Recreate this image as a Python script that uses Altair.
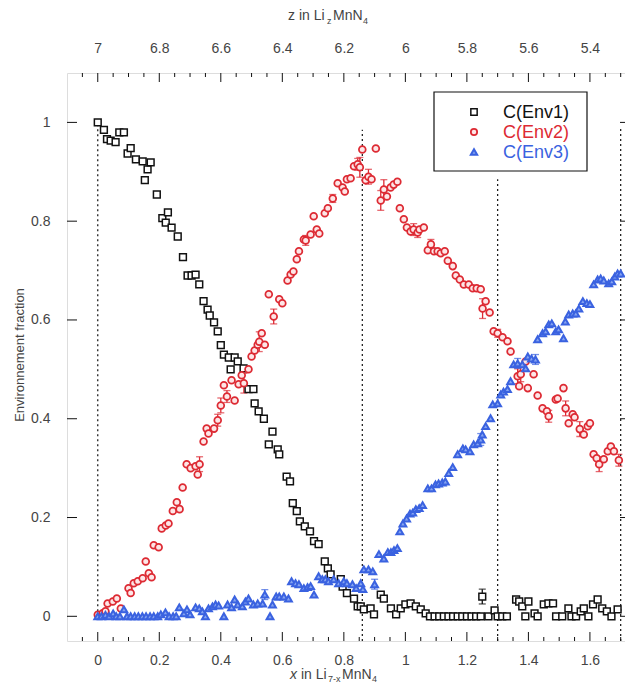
import altair as alt
import pandas as pd

# ---------------- data ----------------
env1_x = [0.0, 0.02, 0.03, 0.042, 0.058, 0.07, 0.085, 0.097, 0.107, 0.124, 0.146, 0.153, 0.162, 0.172,
          0.192, 0.21, 0.221, 0.228, 0.24, 0.26, 0.277, 0.292, 0.305, 0.318, 0.33, 0.344, 0.357, 0.364,
          0.378, 0.39, 0.40, 0.41, 0.426, 0.432, 0.445, 0.455, 0.474, 0.49, 0.506, 0.51, 0.523, 0.54,
          0.556, 0.568, 0.585, 0.59, 0.614, 0.625, 0.634, 0.647, 0.657, 0.673, 0.69, 0.703, 0.718,
          0.738, 0.748, 0.757, 0.79, 0.796, 0.81, 0.833, 0.845, 0.855, 0.865, 0.887, 0.898, 0.92, 0.93,
          0.953, 0.97, 0.985, 1.0, 1.017, 1.034, 1.05, 1.066, 1.08, 1.095, 1.11, 1.125, 1.14, 1.155,
          1.17, 1.185, 1.2, 1.215, 1.23, 1.245, 1.25, 1.27, 1.29, 1.3, 1.315, 1.33, 1.36, 1.37, 1.38,
          1.39, 1.40, 1.42, 1.43, 1.45, 1.465, 1.48, 1.49, 1.51, 1.53, 1.54, 1.555, 1.57, 1.58, 1.595,
          1.61, 1.625, 1.64, 1.655, 1.67, 1.69]
env1_y = [1.0, 0.985, 0.966, 0.963, 0.96, 0.98, 0.98, 0.937, 0.948, 0.925, 0.921, 0.883, 0.905, 0.919,
          0.854, 0.806, 0.797, 0.818, 0.787, 0.769, 0.727, 0.69, 0.69, 0.692, 0.672, 0.638, 0.621, 0.609,
          0.595, 0.577, 0.549, 0.53, 0.524, 0.50, 0.524, 0.516, 0.502, 0.46, 0.46, 0.431, 0.415, 0.40,
          0.348, 0.374, 0.338, 0.328, 0.283, 0.273, 0.229, 0.213, 0.192, 0.182, 0.172, 0.152, 0.146,
          0.111, 0.097, 0.085, 0.075, 0.06, 0.047, 0.036, 0.02, 0.02, 0.014, 0.016, 0.004, 0.044, 0.036,
          0.016, 0.004, 0.016, 0.024, 0.026, 0.02, 0.014, 0.006, 0.0, 0.0, 0.0, 0.0, 0.0, 0.0,
          0.0, 0.0, 0.0, 0.0, 0.0, 0.0, 0.04, 0.0, 0.012, 0.0, 0.0, 0.0, 0.034, 0.03, 0.02,
          0.0, 0.03, 0.006, 0.0, 0.024, 0.026, 0.026, 0.0, 0.0, 0.016, 0.0, 0.0, 0.01, 0.016, 0.0,
          0.024, 0.034, 0.016, 0.01, 0.0, 0.014]

env2_x = [0.0, 0.016, 0.025, 0.032, 0.049, 0.062, 0.075, 0.1, 0.107, 0.117, 0.13, 0.146, 0.156, 0.166,
          0.175, 0.182, 0.198, 0.208, 0.221, 0.23, 0.244, 0.257, 0.266, 0.276, 0.289, 0.302, 0.318,
          0.325, 0.331, 0.344, 0.354, 0.36, 0.378, 0.39, 0.40, 0.41, 0.42, 0.435, 0.445, 0.458, 0.468,
          0.475, 0.49, 0.50, 0.51, 0.52, 0.525, 0.533, 0.543, 0.556, 0.572, 0.59, 0.60, 0.617, 0.627,
          0.636, 0.647, 0.654, 0.67, 0.676, 0.692, 0.702, 0.712, 0.72, 0.738, 0.748, 0.764, 0.78, 0.796,
          0.803, 0.81, 0.822, 0.833, 0.845, 0.852, 0.86, 0.871, 0.88, 0.89, 0.904, 0.92, 0.93, 0.94,
          0.952, 0.962, 0.974, 0.982, 0.995, 1.005, 1.017, 1.027, 1.04, 1.046, 1.06, 1.073, 1.083,
          1.093, 1.105, 1.115, 1.128, 1.138, 1.154, 1.164, 1.177, 1.19, 1.206, 1.219, 1.232, 1.245,
          1.251, 1.261, 1.274, 1.287, 1.30, 1.316, 1.332, 1.342, 1.365, 1.37, 1.375, 1.391, 1.398,
          1.417, 1.43, 1.446, 1.46, 1.466, 1.489, 1.495, 1.514, 1.521, 1.531, 1.544, 1.55, 1.567, 1.58,
          1.593, 1.60, 1.612, 1.622, 1.63, 1.645, 1.658, 1.668, 1.678, 1.694]
env2_y = [0.003, 0.006, 0.01, 0.026, 0.03, 0.036, 0.016, 0.057, 0.047, 0.067, 0.071, 0.077, 0.111, 0.087,
          0.079, 0.144, 0.14, 0.178, 0.184, 0.188, 0.213, 0.231, 0.217, 0.261, 0.308, 0.30, 0.304,
          0.287, 0.308, 0.354, 0.38, 0.37, 0.38, 0.397, 0.427, 0.468, 0.445, 0.478, 0.437, 0.47, 0.488,
          0.472, 0.50, 0.526, 0.538, 0.55, 0.556, 0.573, 0.55, 0.652, 0.607, 0.642, 0.634, 0.68, 0.692,
          0.698, 0.723, 0.739, 0.763, 0.761, 0.773, 0.81, 0.783, 0.775, 0.816, 0.826, 0.846, 0.877, 0.868,
          0.86, 0.885, 0.887, 0.911, 0.915, 0.909, 0.945, 0.883, 0.89, 0.885, 0.947, 0.842, 0.864, 0.85,
          0.868, 0.874, 0.88, 0.826, 0.804, 0.787, 0.779, 0.783, 0.777, 0.783, 0.787, 0.741, 0.753,
          0.739, 0.739, 0.735, 0.739, 0.72, 0.709, 0.69, 0.682, 0.672, 0.672, 0.664, 0.664, 0.662,
          0.623, 0.638, 0.615, 0.577, 0.573, 0.565, 0.557, 0.536, 0.486, 0.466, 0.49, 0.516, 0.462,
          0.49, 0.447, 0.421, 0.415, 0.405, 0.439, 0.441, 0.462, 0.421, 0.391, 0.409, 0.403, 0.379, 0.368,
          0.385, 0.391, 0.328, 0.32, 0.308, 0.318, 0.334, 0.344, 0.334, 0.316]

env3_x = [0.0, 0.012, 0.025, 0.037, 0.05, 0.06, 0.072, 0.085, 0.095, 0.107, 0.12, 0.132, 0.145, 0.157,
          0.17, 0.182, 0.195, 0.205, 0.22, 0.232, 0.245, 0.255, 0.265, 0.28, 0.29, 0.30, 0.318, 0.33,
          0.34, 0.35, 0.36, 0.373, 0.383, 0.393, 0.41, 0.422, 0.435, 0.445, 0.455, 0.47, 0.48, 0.49,
          0.506, 0.52, 0.536, 0.543, 0.56, 0.568, 0.58, 0.59, 0.605, 0.62, 0.63, 0.643, 0.654, 0.67,
          0.682, 0.692, 0.703, 0.718, 0.73, 0.74, 0.75, 0.767, 0.783, 0.80, 0.81, 0.828, 0.84, 0.855,
          0.862, 0.865, 0.88, 0.894, 0.90, 0.914, 0.93, 0.943, 0.953, 0.963, 0.974, 0.982, 0.992, 1.004,
          1.015, 1.024, 1.034, 1.045, 1.056, 1.073, 1.085, 1.098, 1.108, 1.12, 1.13, 1.141, 1.154, 1.17,
          1.187, 1.196, 1.21, 1.222, 1.235, 1.245, 1.25, 1.261, 1.277, 1.284, 1.30, 1.31, 1.319, 1.332,
          1.342, 1.352, 1.365, 1.38, 1.391, 1.398, 1.41, 1.423, 1.43, 1.446, 1.456, 1.466, 1.476, 1.489,
          1.498, 1.514, 1.52, 1.531, 1.544, 1.554, 1.564, 1.577, 1.59, 1.60, 1.612, 1.625, 1.635, 1.645,
          1.661, 1.671, 1.681, 1.69, 1.70]
env3_y = [0.0, 0.0, 0.003, 0.0, 0.006, 0.0, 0.0, 0.014, 0.0, 0.0, 0.0, 0.0, 0.0, 0.0,
          0.0, 0.0, 0.0, 0.004, 0.008, 0.0, 0.0, 0.0, 0.018, 0.006, 0.014, 0.004, 0.018, 0.016,
          0.01, 0.0, 0.016, 0.02, 0.024, 0.022, 0.0, 0.024, 0.018, 0.034, 0.024, 0.02, 0.03, 0.036,
          0.024, 0.026, 0.026, 0.044, 0.0, 0.024, 0.04, 0.04, 0.04, 0.036, 0.071, 0.067, 0.065, 0.057,
          0.059, 0.061, 0.044, 0.081, 0.075, 0.075, 0.071, 0.075, 0.067, 0.071, 0.067, 0.065, 0.057, 0.067,
          0.055, 0.095, 0.095, 0.091, 0.065, 0.126, 0.117, 0.13, 0.13, 0.134, 0.138, 0.172, 0.188, 0.198,
          0.208, 0.21, 0.217, 0.219, 0.225, 0.259, 0.259, 0.267, 0.269, 0.271, 0.273, 0.29, 0.302, 0.328,
          0.34, 0.338, 0.334, 0.348, 0.35, 0.358, 0.368, 0.385, 0.401, 0.429, 0.431, 0.449, 0.455, 0.46,
          0.476, 0.51, 0.512, 0.51, 0.502, 0.526, 0.522, 0.52, 0.561, 0.573, 0.577, 0.591, 0.593, 0.577,
          0.581, 0.563, 0.597, 0.611, 0.613, 0.613, 0.623, 0.638, 0.634, 0.632, 0.672, 0.682, 0.684, 0.68,
          0.674, 0.678, 0.688, 0.694, 0.694]

# error bars: series, x, y, half-length
err_series = ["C(Env2)"] * 26 + ["C(Env3)"] * 5 + ["C(Env1)"]
err_x = [0.331, 0.39, 0.40, 0.42, 0.475, 0.525, 0.572, 0.676, 0.764, 0.845, 0.852, 0.88, 0.92, 0.93,
         1.027, 1.04, 1.083, 1.251, 1.30, 1.365, 1.375, 1.466, 1.521, 1.567, 1.63, 1.694,
         0.543, 0.90, 1.245, 1.365, 1.423,
         1.25]
err_y = [0.308, 0.397, 0.427, 0.445, 0.472, 0.556, 0.607, 0.761, 0.846, 0.915, 0.909, 0.89, 0.842, 0.864,
         0.783, 0.777, 0.753, 0.623, 0.573, 0.486, 0.49, 0.405, 0.421, 0.379, 0.308, 0.316,
         0.044, 0.065, 0.358, 0.512, 0.52,
         0.04]
err_e = [0.015, 0.012, 0.015, 0.012, 0.02, 0.02, 0.015, 0.01, 0.008, 0.012, 0.02, 0.015, 0.02, 0.02,
         0.012, 0.01, 0.01, 0.02, 0.008, 0.015, 0.015, 0.012, 0.015, 0.015, 0.015, 0.012,
         0.01, 0.01, 0.012, 0.01, 0.01,
         0.015]

# dotted vertical guide lines
vline_x = [0.0, 0.86, 1.3, 1.7]
vline_top = [1.0, 0.985, 0.885, 0.99]
vline_bot = [0.0, -0.05, -0.05, -0.05]

series_names = ["C(Env1)", "C(Env2)", "C(Env3)"]
stroke_colors = ["#111111", "#dd2a33", "#3a62e0"]
fill_colors = ["#ffffff", "#fde6e7", "#86a4f0"]
stroke_widths = [1.5, 2.0, 1.5]
shapes = ["square", "circle", "triangle-up"]

x_major = [0, 0.2, 0.4, 0.6, 0.8, 1, 1.2, 1.4, 1.6]
x_minor = [-0.05, 0.05, 0.1, 0.15, 0.25, 0.3, 0.35, 0.45, 0.5, 0.55, 0.65, 0.7, 0.75, 0.85, 0.9,
           0.95, 1.05, 1.1, 1.15, 1.25, 1.3, 1.35, 1.45, 1.5, 1.55, 1.65, 1.7]
y_major = [0, 0.2, 0.4, 0.6, 0.8, 1]

# ---------------- layout ----------------
W, H = 558, 568
FONT = "Liberation Sans"
LABEL_COLOR = "#444444"

xs = alt.Scale(domain=[-0.1, 1.714], nice=False, zero=False)
ys = alt.Scale(domain=[-0.05, 1.1], nice=False, zero=False)

pts = pd.concat([
    pd.DataFrame({"x": env1_x, "y": env1_y, "series": "C(Env1)"}),
    pd.DataFrame({"x": env2_x, "y": env2_y, "series": "C(Env2)"}),
    pd.DataFrame({"x": env3_x, "y": env3_y, "series": "C(Env3)"}),
])
errs = pd.DataFrame({"series": err_series, "x": err_x, "y": err_y, "e": err_e})
errs["lo"] = errs["y"] - errs["e"]
errs["hi"] = errs["y"] + errs["e"]
vl = pd.DataFrame({"x": vline_x, "top": vline_top, "bot": vline_bot})

stroke_scale = alt.Scale(domain=series_names, range=stroke_colors)
fill_scale = alt.Scale(domain=series_names, range=fill_colors)
shape_scale = alt.Scale(domain=series_names, range=shapes)
sw_scale = alt.Scale(domain=series_names, range=stroke_widths)

bottom_axis = alt.Axis(values=x_major, format="~g", orient="bottom", ticks=False, domain=False,
                       grid=False, labelFontSize=14, labelFont=FONT, labelColor=LABEL_COLOR,
                       labelPadding=12, title=None)
top_axis = alt.Axis(values=x_major, labelExpr="format(7 - datum.value, '~g')", orient="top",
                    ticks=False, domain=False, grid=False, labelFontSize=14, labelFont=FONT,
                    labelColor=LABEL_COLOR, labelPadding=18, title=None)
left_axis = alt.Axis(values=y_major, format="~g", orient="left", ticks=False, domain=False,
                     grid=False, labelFontSize=14, labelFont=FONT, labelColor=LABEL_COLOR,
                     labelPadding=17, title=None)

# guide lines (also carries the top axis)
guides = alt.Chart(vl).mark_rule(color="#111111", strokeDash=[2, 3], strokeWidth=1.2).encode(
    x=alt.X("x:Q", scale=xs, axis=top_axis),
    y=alt.Y("bot:Q", scale=ys, axis=None),
    y2="top:Q",
)

# tick marks (inward)
xmaj = pd.DataFrame({"t": x_major})
xmin = pd.DataFrame({"t": x_minor})
ymaj = pd.DataFrame({"t": y_major})
tick_style = dict(color="#111111", strokeWidth=1)
ticks = [
    alt.Chart(xmaj).mark_rule(**tick_style).encode(x=alt.X("t:Q", scale=xs, axis=None),
                                                  y=alt.value(H), y2=alt.value(H - 9)),
    alt.Chart(xmin).mark_rule(**tick_style).encode(x=alt.X("t:Q", scale=xs, axis=None),
                                                  y=alt.value(H), y2=alt.value(H - 4)),
    alt.Chart(xmaj).mark_rule(**tick_style).encode(x=alt.X("t:Q", scale=xs, axis=None),
                                                  y=alt.value(0), y2=alt.value(9)),
    alt.Chart(xmin).mark_rule(**tick_style).encode(x=alt.X("t:Q", scale=xs, axis=None),
                                                  y=alt.value(0), y2=alt.value(4)),
    alt.Chart(ymaj).mark_rule(**tick_style).encode(y=alt.Y("t:Q", scale=ys, axis=None),
                                                  x=alt.value(0), x2=alt.value(10)),
    alt.Chart(ymaj).mark_rule(**tick_style).encode(y=alt.Y("t:Q", scale=ys, axis=None),
                                                  x=alt.value(W), x2=alt.value(W - 5)),
]

# error bars
ebar = alt.Chart(errs).mark_rule(strokeWidth=1.3).encode(
    x=alt.X("x:Q", scale=xs, axis=None),
    y=alt.Y("lo:Q", scale=ys, axis=None),
    y2="hi:Q",
    color=alt.Color("series:N", scale=stroke_scale, legend=None),
)
caps_hi = alt.Chart(errs).mark_tick(orient="horizontal", size=7, thickness=1.3).encode(
    x=alt.X("x:Q", scale=xs, axis=None),
    y=alt.Y("hi:Q", scale=ys, axis=None),
    color=alt.Color("series:N", scale=stroke_scale, legend=None),
)
caps_lo = alt.Chart(errs).mark_tick(orient="horizontal", size=7, thickness=1.3).encode(
    x=alt.X("x:Q", scale=xs, axis=None),
    y=alt.Y("lo:Q", scale=ys, axis=None),
    color=alt.Color("series:N", scale=stroke_scale, legend=None),
)

# data points (carries bottom / left axes)
points = alt.Chart(pts).mark_point(size=46, opacity=1, filled=False).encode(
    x=alt.X("x:Q", scale=xs, axis=bottom_axis),
    y=alt.Y("y:Q", scale=ys, axis=left_axis),
    stroke=alt.Stroke("series:N", scale=stroke_scale, legend=None),
    fill=alt.Fill("series:N", scale=fill_scale, legend=None),
    shape=alt.Shape("series:N", scale=shape_scale, legend=None),
    strokeWidth=alt.StrokeWidth("series:N", scale=sw_scale, legend=None),
)

# legend (drawn by hand, inside the plot)
leg_box = alt.Chart(pd.DataFrame({"a": [0]})).mark_rect(
    fill="white", stroke="#111111", strokeWidth=1.2).encode(
    x=alt.value(367), x2=alt.value(520), y=alt.value(19), y2=alt.value(98))
leg_layers = []
for i, name in enumerate(series_names):
    d = pd.DataFrame({"series": [name]})
    leg_layers.append(alt.Chart(d).mark_point(size=40, opacity=1).encode(
        x=alt.value(407), y=alt.value(39 + 20 * i),
        stroke=alt.Stroke("series:N", scale=stroke_scale, legend=None),
        fill=alt.Fill("series:N", scale=fill_scale, legend=None),
        shape=alt.Shape("series:N", scale=shape_scale, legend=None),
        strokeWidth=alt.StrokeWidth("series:N", scale=sw_scale, legend=None),
    ))
    leg_layers.append(alt.Chart(d).mark_text(
        align="left", baseline="middle", fontSize=18, font=FONT).encode(
        x=alt.value(436), y=alt.value(40 + 20 * i),
        text="series:N",
        color=alt.Color("series:N", scale=stroke_scale, legend=None),
    ))

# axis titles with subscripts
def txt(s, x, y, size=14, italic=False, angle=0, align="left"):
    return alt.Chart(pd.DataFrame({"s": [s]})).mark_text(
        align=align, baseline="middle", fontSize=size, font=FONT, color=LABEL_COLOR,
        fontStyle="italic" if italic else "normal", angle=angle).encode(
        x=alt.value(x), y=alt.value(y), text="s:N")

ox, oy = 67, 73  # plot origin in page pixels
titles = [
    # top: z in Li_z MnN_4
    txt("z in Li", 288 - ox, 16 - oy),
    txt("z", 327 - ox, 21 - oy, size=9),
    txt("MnN", 333 - ox, 16 - oy),
    txt("4", 363 - ox, 21 - oy, size=9),
    # bottom: x in Li_{7-x} MnN_4
    txt("x", 290 - ox, 675 - oy, italic=True),
    txt("in Li", 301 - ox, 675 - oy),
    txt("7-x", 328 - ox, 679 - oy, size=9),
    txt("MnN", 342 - ox, 675 - oy),
    txt("4", 372 - ox, 679 - oy, size=9),
    # left
    txt("Environnement fraction", 20 - ox, 355 - oy, angle=270, align="center", size=13),
]

chart = alt.layer(
    guides, *ticks, ebar, caps_hi, caps_lo, points, leg_box, *leg_layers, *titles
).resolve_axis(x="independent", y="independent").properties(
    width=W, height=H,
    padding={"left": 59, "top": 65, "right": 0, "bottom": 43},
    autosize=alt.AutoSizeParams(type="none"),
).configure_view(stroke="#111111", strokeWidth=1.2).configure(background="white")

chart.save("out.html", embed_options={"renderer": "svg", "actions": False})
